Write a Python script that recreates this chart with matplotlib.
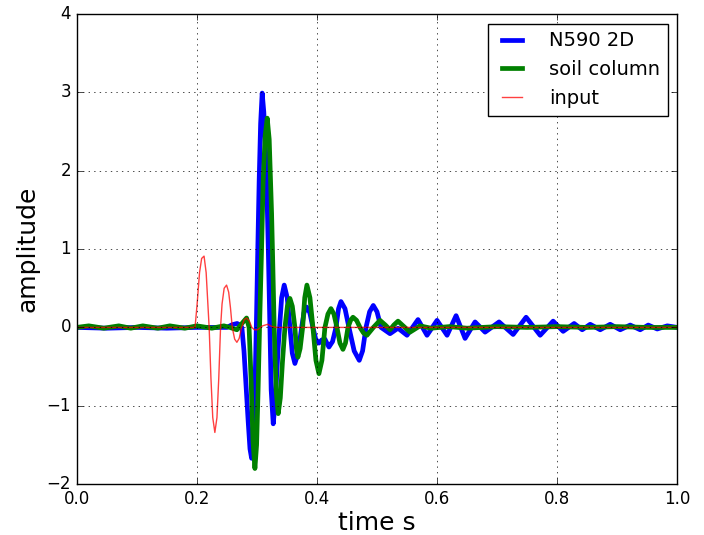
import matplotlib
matplotlib.use("Agg")
import matplotlib.pyplot as plt

plt.style.use('classic')

# N590 2D (blue)
t_n590 = [0.0, 0.05, 0.10, 0.15, 0.20, 0.25, 0.259, 0.267, 0.271, 0.275,
          0.2785, 0.282, 0.2855, 0.2885, 0.2912, 0.294, 0.2965, 0.2995, 0.3015,
          0.3038, 0.3062, 0.3088, 0.3115, 0.3138, 0.3162, 0.319, 0.3217,
          0.3238, 0.3272, 0.3305, 0.3355, 0.3412, 0.3455, 0.3505, 0.355,
          0.359, 0.3633, 0.3685, 0.3745, 0.3785, 0.3828, 0.388, 0.3933, 0.398,
          0.4033, 0.408, 0.4133, 0.4165, 0.42, 0.426, 0.4317, 0.436, 0.44,
          0.4467, 0.4533, 0.462, 0.4705, 0.476, 0.4817, 0.4877, 0.4938, 0.5,
          0.5067, 0.5217, 0.535, 0.55, 0.5683, 0.5833, 0.6, 0.6167, 0.6317,
          0.6467, 0.6633, 0.68, 0.7033, 0.7267, 0.7483, 0.7717, 0.7933, 0.81,
          0.8283, 0.8417, 0.855, 0.8717, 0.8883, 0.905, 0.9217, 0.9383,
          0.9517, 0.9667, 0.9833, 1.0]
a_n590 = [0.0, -0.01, 0.0, -0.01, 0.0, 0.0, 0.035, 0.05, 0.035, 0.0,
          -0.3, -0.75, -1.2, -1.55, -1.67, -1.5, -0.9, 0.18, 1.0,
          1.88, 2.6, 2.99, 2.75, 2.4, 1.88, 1.0, 0.0,
          -0.8, -1.23, -0.95, -0.25, 0.38, 0.54, 0.38, 0.0,
          -0.33, -0.46, -0.33, 0.0, 0.19, 0.26, 0.19, 0.0, -0.15,
          -0.2, -0.16, -0.15, -0.2, -0.25, -0.18, 0.0, 0.24, 0.33,
          0.24, 0.0, -0.3, -0.42, -0.3, 0.0, 0.2, 0.28, 0.2,
          0.0, -0.08, -0.01, -0.10, 0.10, -0.10, 0.09, -0.10, 0.15,
          -0.14, 0.07, -0.06, 0.07, -0.09, 0.13, -0.10, 0.08, -0.05,
          0.05, -0.03, 0.04, -0.03, 0.04, -0.03, 0.03, -0.03,
          0.03, -0.02, 0.02, 0.0]

# soil column (green)
t_soil = [0.0, 0.02, 0.045, 0.07, 0.09, 0.11, 0.135, 0.155, 0.18, 0.20, 0.225,
          0.245, 0.255, 0.2667, 0.275, 0.2828, 0.287, 0.2905, 0.2935, 0.2967,
          0.2995, 0.302, 0.305, 0.3078, 0.3105, 0.3138, 0.3172, 0.3205,
          0.3245, 0.3265, 0.3288, 0.332, 0.3355, 0.339, 0.3425, 0.3467,
          0.3508, 0.355, 0.359, 0.3633, 0.3658, 0.3683, 0.372, 0.3762, 0.3797,
          0.3833, 0.3883, 0.3933, 0.3983, 0.4033, 0.4083, 0.4133, 0.4183,
          0.4233, 0.4283, 0.4333, 0.4383, 0.4433, 0.4475, 0.4517, 0.456, 0.46,
          0.466, 0.4717, 0.4775, 0.4833, 0.494, 0.505, 0.514, 0.5217, 0.528,
          0.535, 0.545, 0.555, 0.5717, 0.59, 0.62, 0.65, 0.70, 0.75, 0.80,
          0.85, 0.90, 0.95, 1.0]
a_soil = [0.0, 0.02, -0.01, 0.02, -0.01, 0.02, -0.01, 0.02, -0.01, 0.02, -0.01,
          0.02, 0.0, -0.03, 0.05, 0.12, 0.0, -0.7, -1.45, -1.80,
          -1.5, -0.8, 0.18, 1.0, 1.88, 2.45, 2.67, 2.4,
          1.45, 0.8, 0.0, -0.8, -1.10, -0.9, -0.45, 0.0,
          0.27, 0.37, 0.27, 0.0, -0.27, -0.38, -0.27, 0.0, 0.38,
          0.54, 0.38, 0.0, -0.42, -0.59, -0.42, 0.0, 0.17,
          0.24, 0.17, 0.0, -0.2, -0.28, -0.2, 0.0, 0.09, 0.13,
          0.09, 0.0, -0.07, -0.10, 0.0, 0.09, 0.03, -0.03, 0.03,
          0.08, 0.01, -0.06, 0.02, -0.01, 0.01, -0.01, 0.01, 0.0, 0.01,
          0.0, 0.01, 0.0, 0.0]

# input (red)
t_input = [0.0, 0.10, 0.197, 0.2005, 0.2045, 0.208, 0.212, 0.2155, 0.218,
           0.2205, 0.2235, 0.2265, 0.23, 0.2335, 0.2365, 0.2395, 0.242,
           0.2455, 0.2495, 0.253, 0.256, 0.259, 0.263, 0.2667, 0.2705, 0.2745,
           0.2788, 0.283, 0.2875, 0.2915, 0.296, 0.301, 0.3095, 0.318, 0.325,
           0.333, 0.5, 0.75, 1.0]
a_input = [0.0, 0.0, 0.0, 0.3, 0.7, 0.88, 0.91, 0.7, 0.35,
           0.0, -0.65, -1.15, -1.34, -1.15, -0.65, 0.0, 0.3,
           0.5, 0.54, 0.45, 0.25, 0.0, -0.15, -0.19, -0.14, 0.0,
           0.1, 0.12, 0.08, 0.0, -0.03, -0.03, 0.02, 0.04, 0.01,
           0.0, 0.0, 0.0, 0.0]

fig = plt.figure(figsize=(7.04, 5.35), dpi=100, facecolor='white')
ax = fig.add_axes([0.109, 0.095, 0.853, 0.879])

ax.plot(t_n590, a_n590, color='b', lw=3.4, label='N590 2D')
ax.plot(t_soil, a_soil, color='g', lw=3.4, label='soil column')
ax.plot(t_input, a_input, color='r', lw=1, alpha=0.75, label='input')

ax.set_xlim(0, 1)
ax.set_ylim(-2, 4)
ax.grid(True)
ax.set_xlabel('time s', fontsize=18, labelpad=2)
ax.set_ylabel('amplitude', fontsize=18)
ax.tick_params(labelsize=12)
ax.legend(loc='upper right', fontsize=14, handlelength=1.6,
          handletextpad=1.1)

fig.savefig('out.png', dpi=100, facecolor='white')
